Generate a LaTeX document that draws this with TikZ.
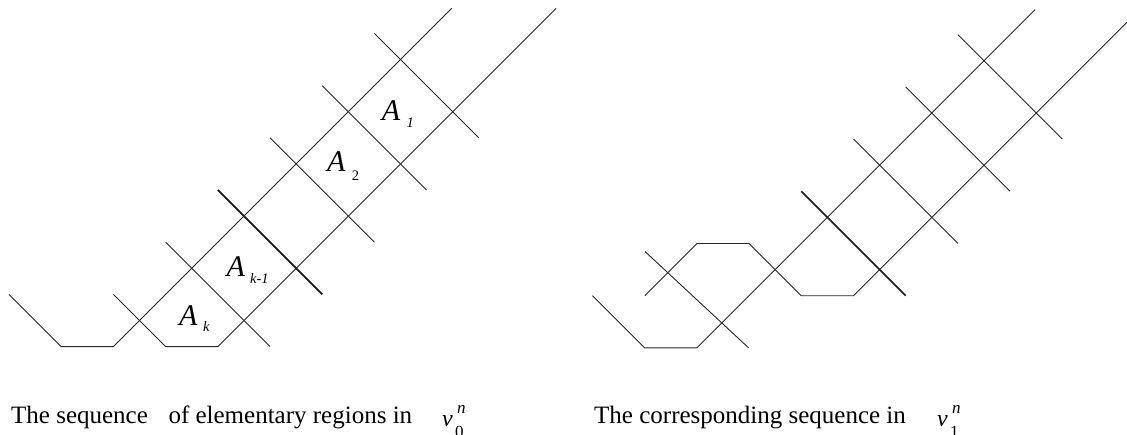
\documentclass[tikz,border=0pt]{standalone}
\usepackage{fontspec}
\setmainfont{Liberation Serif}
\begin{document}
\begin{tikzpicture}[x=1pt,y=-1pt,
  ln/.style={line width=0.9pt, black!85},
  thk/.style={line width=1.7pt, black!90},
  lab/.style={inner sep=0pt, anchor=base west, font=\fontsize{30}{30}\selectfont\itshape},
  sublab/.style={inner sep=0pt, anchor=base west, font=\fontsize{14.5}{14.5}\selectfont\itshape},
  captxt/.style={inner sep=0pt, anchor=base west, font=\fontsize{25}{30}\selectfont},
  vartxt/.style={inner sep=0pt, anchor=base west, font=\fontsize{24}{24}\selectfont\itshape},
  suptxt/.style={inner sep=0pt, anchor=base west, font=\fontsize{17}{17}\selectfont\itshape},
  subtxt/.style={inner sep=0pt, anchor=base west, font=\fontsize{17}{17}\selectfont},
]
\useasboundingbox (0,0) rectangle (1127,434);
\clip (0,0) rectangle (1127,434);

% ---------- left diagram ----------
\begin{scope}
  \draw[ln] (9,294.4) -- (61.2,346.6) -- (113.4,346.6) -- (451.7,8.3);
  \draw[ln] (113.4,294.4) -- (165.6,346.6) -- (217.8,346.6) -- (556.1,8.3);
  \draw[ln] (165.6,242.2) -- (270,346.6);
  \draw[thk] (217.8,190) -- (322.2,294.4);
  \draw[ln] (270,137.8) -- (374.4,242.2);
  \draw[ln] (322.2,85.6) -- (426.6,190);
  \draw[ln] (374.4,33.4) -- (478.8,137.8);

  \node[lab] (ak) at (179,325) {A};
  \node[sublab] (akk) at (203,331.7) {k};
  \node[lab] (ak1) at (226.5,276.7) {A};
  \node[sublab] (ak1k) at (250,283.3) {k-1};
  \node[lab] (a2) at (327,171.7) {A};
  \node[sublab, font=\fontsize{14.5}{14.5}\selectfont] (a2k) at (351.7,180) {2};
  \node[lab] (a1) at (381.7,120.7) {A};
  \node[sublab] (a1k) at (406.5,127.3) {1};
\end{scope}

% ---------- right diagram ----------
\begin{scope}[shift={(583.5,1.3)}]
  \draw[ln] (9,294.4) -- (61.2,346.6) -- (113.4,346.6) -- (451.7,8.3);
  \draw[ln] (61.2,294.4) -- (113.4,242.2) -- (165.6,242.2) -- (217.8,294.4) -- (270,294.4) -- (556.1,8.3);
  \draw[ln] (61.5,250.2) -- (165,346.5);
  \draw[thk] (217.8,190) -- (322.2,294.4);
  \draw[ln] (270,137.8) -- (374.4,242.2);
  \draw[ln] (322.2,85.6) -- (426.6,190);
  \draw[ln] (374.4,33.4) -- (478.8,137.8);
\end{scope}

% ---------- captions ----------
\node[captxt] (c1) at (11,423.5) {The sequence};
\node[captxt] (c2) at (168.3,423.5) {of elementary regions in};
\node[vartxt] (v0) at (442,426.5) {v};
\node[suptxt] (v0n) at (457,413) {n};
\node[subtxt] (v00) at (455,437) {0};

\node[captxt] (c3) at (594,423.5) {The corresponding sequence in};
\node[vartxt] (v1) at (937,426.5) {v};
\node[suptxt] (v1n) at (952,413) {n};
\node[subtxt] (v11) at (950,437) {1};
\end{tikzpicture}
\end{document}
